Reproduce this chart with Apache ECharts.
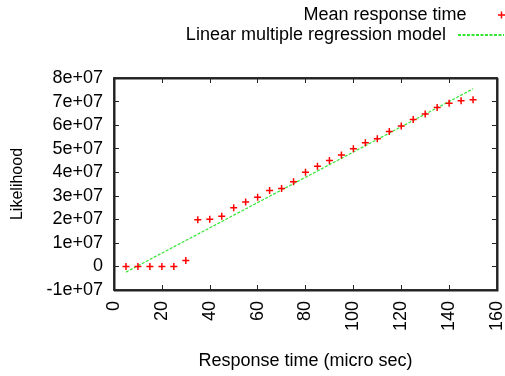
<!DOCTYPE html>
<html>
<head>
<meta charset="utf-8">
<script src="https://cdn.jsdelivr.net/npm/echarts@6/dist/echarts.min.js"></script>
<style>
  html, body { margin: 0; padding: 0; background: #fff; }
  #chart { width: 505px; height: 376px; }
</style>
</head>
<body>
<div id="chart"></div>
<script>
// response time (micro sec)
var respTime = [5, 10, 15, 20, 25, 30, 35, 40, 45, 50, 55, 60, 65, 70, 75,
  80, 85, 90, 95, 100, 105, 110, 115, 120, 125, 130, 135, 140, 145, 150];
// mean likelihood per response time
var meanLikelihood = [0, 0, 0, 0, 0, 2.5e6, 1.98e7, 2.0e7, 2.13e7, 2.49e7,
  2.74e7, 2.94e7, 3.22e7, 3.31e7, 3.6e7, 4.0e7, 4.25e7, 4.5e7, 4.73e7, 5.0e7,
  5.25e7, 5.42e7, 5.73e7, 5.96e7, 6.24e7, 6.47e7, 6.75e7, 6.93e7, 7.03e7, 7.08e7];
// regression line end points
var regX = [5, 150];
var regY = [-2.4e6, 7.54e7];
// tick values
var xTicks = [0, 20, 40, 60, 80, 100, 120, 140, 160];
var yTicks = [-1e7, 0, 1e7, 2e7, 3e7, 4e7, 5e7, 6e7, 7e7, 8e7];

var FONT = "'Liberation Sans', Arial, sans-serif";
var plus = 'path://M3,0h1.6v3h3v1.6h-3v3h-1.6v-3h-3v-1.6h3z';
var GREEN = '#33e633';
var G = { left: 114, right: 8, top: 78, bottom: 86 };
var W = 505, H = 376;

function expLabel(v) {
  if (v === 0) return '0';
  var e = Math.floor(Math.log10(Math.abs(v)));
  var m = Math.round(v / Math.pow(10, e));
  return m + 'e+' + (e < 10 ? '0' + e : e);
}

var xMin = xTicks[0], xMax = xTicks[xTicks.length - 1];
var yMin = yTicks[0], yMax = yTicks[yTicks.length - 1];

// full plot border, gnuplot style
var frame = {
  type: 'rect', z: 100, silent: true,
  left: G.left, top: G.top,
  shape: { x: 0, y: 0, width: W - G.left - G.right, height: H - G.top - G.bottom },
  style: { fill: 'transparent', stroke: '#222', lineWidth: 1.5 }
};

function axisCommon(extra) {
  return Object.assign({
    axisLine: { show: true, onZero: false, lineStyle: { color: '#222', width: 1.5 } },
    axisTick: { show: true, inside: true, length: 5, lineStyle: { color: '#222', width: 1 } },
    splitLine: { show: false }
  }, extra);
}

var chart = echarts.init(document.getElementById('chart'));
chart.setOption({
  animation: false,
  textStyle: { fontFamily: FONT },
  grid: {
    left: G.left, right: G.right, top: G.top, bottom: G.bottom, outerBoundsMode: 'none',
    show: true, borderColor: '#222', borderWidth: 1.5, backgroundColor: 'transparent'
  },
  graphic: [frame],
  legend: [
    {
      data: ['Mean response time'],
      right: 0, top: 6, padding: 0, align: 'right',
      itemWidth: 46, itemHeight: 7,
      textStyle: { fontSize: 18, color: '#000', fontFamily: FONT, padding: [0, 7, 0, 0] }
    },
    {
      data: [{ name: 'Linear multiple regression model', itemStyle: { opacity: 0 } }],
      right: 0, top: 26, padding: 0, align: 'right',
      itemWidth: 46, itemHeight: 10,
      textStyle: { fontSize: 18, color: '#000', fontFamily: FONT, padding: [0, 7, 0, 0] }
    }
  ],
  xAxis: [
    axisCommon({
      type: 'value', min: xMin, max: xMax, interval: 20, position: 'bottom',
      name: 'Response time (micro sec)',
      nameLocation: 'middle', nameGap: 62,
      nameTextStyle: { fontSize: 18, color: '#000', fontFamily: FONT },
      axisLabel: { rotate: 90, margin: 11, fontSize: 18, color: '#000', fontFamily: FONT }
    }),
    axisCommon({
      type: 'value', min: xMin, max: xMax, interval: 20, position: 'top',
      axisLabel: { show: false }
    })
  ],
  yAxis: [
    axisCommon({
      type: 'value', min: yMin, max: yMax, interval: 1e7, position: 'left',
      name: 'Likelihood',
      nameLocation: 'middle', nameGap: 88,
      nameTextStyle: { fontSize: 16, color: '#000', fontFamily: FONT },
      axisLabel: { margin: 11, fontSize: 18, color: '#000', fontFamily: FONT, formatter: expLabel }
    }),
    axisCommon({
      type: 'value', min: yMin, max: yMax, interval: 1e7, position: 'right',
      axisLabel: { show: false }
    })
  ],
  series: [
    {
      name: 'Linear multiple regression model',
      type: 'line',
      symbol: 'none',
      silent: true,
      data: regX.map(function (x, i) { return [x, regY[i]]; }),
      lineStyle: { color: GREEN, width: 1.2, type: [3, 1.5] },
      itemStyle: { color: GREEN },
      z: 2
    },
    {
      name: 'Mean response time',
      type: 'scatter',
      symbol: plus,
      symbolSize: 7,
      data: respTime.map(function (x, i) { return [x, meanLikelihood[i]]; }),
      itemStyle: { color: '#ff0000', opacity: 1 },
      z: 3
    }
  ]
});
</script>
</body>
</html>
